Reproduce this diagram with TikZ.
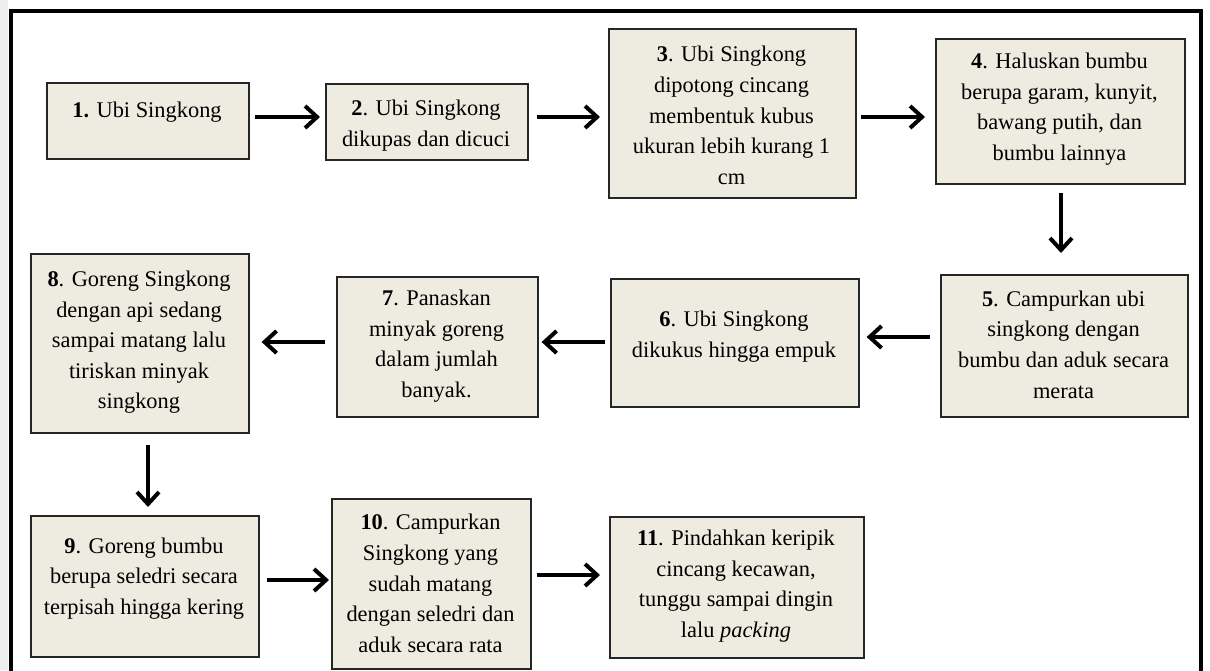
\documentclass[tikz,border=0pt]{standalone}
\usepackage{fontspec}
\setmainfont{Liberation Serif}
\usetikzlibrary{arrows.meta,calc}
\definecolor{boxfill}{HTML}{EEECE1}
\begin{document}
\begin{tikzpicture}[x=0.5pt,y=-0.5pt,
  box/.style={draw=black!85, line width=0.8pt, fill=boxfill, inner sep=0pt, anchor=north west},
  txt/.style={font=\fontsize{11.2}{15.3}\selectfont, align=center, inner sep=0pt,
              execute at begin node=\strut, execute at end node=\strut},
  arr/.style={line width=2pt, -{Straight Barb[length=6pt,width=11pt]}},
  frame/.style={line width=2pt}
]
\useasboundingbox (0,0) rectangle (1210,670);
\fill[black!7] (0,0) rectangle (8,670);
\draw[frame] (11,672) -- (11,10.5) -- (1201,10.5) -- (1201,672);

% boxes
\node[box, minimum width=101pt, minimum height=38pt] (b1) at (46,82) {};
\node[box, minimum width=101pt, minimum height=38pt] (b2) at (325,83) {};
\node[box, minimum width=123.5pt, minimum height=84.5pt] (b3) at (608,28) {};
\node[box, minimum width=124.5pt, minimum height=72.5pt] (b4) at (935,38) {};
\node[box, minimum width=123.5pt, minimum height=71pt] (b5) at (940,274) {};
\node[box, minimum width=124pt, minimum height=64pt] (b6) at (610,278) {};
\node[box, minimum width=100.5pt, minimum height=70pt] (b7) at (336,276) {};
\node[box, minimum width=109pt, minimum height=89.5pt] (b8) at (30,253) {};
\node[box, minimum width=114pt, minimum height=70.5pt] (b9) at (30,515) {};
\node[box, minimum width=99.5pt, minimum height=85pt] (b10) at (331,498) {};
\node[box, minimum width=127pt, minimum height=70.5pt] (b11) at (609,516) {};

% texts
\node[txt] (t1) at (147,111) {\textbf{1.} Ubi Singkong};
\node[txt] (t2) at (426,128) {\textbf{2}. Ubi Singkong\\dikupas dan dicuci};
\node[txt] (t3) at (731.5,120) {\textbf{3}. Ubi Singkong\\dipotong cincang\\membentuk kubus\\ukuran lebih kurang 1\\cm};
\node[txt] (t4) at (1059.5,111.5) {\textbf{4}. Haluskan bumbu\\berupa garam, kunyit,\\bawang putih, dan\\bumbu lainnya};
\node[txt] (t5) at (1063.5,349) {\textbf{5}. Campurkan ubi\\singkong dengan\\bumbu dan aduk secara\\merata};
\node[txt] (t6) at (734,339) {\textbf{6}. Ubi Singkong\\dikukus hingga empuk};
\node[txt] (t7) at (436.5,348.5) {\textbf{7}. Panaskan\\minyak goreng\\dalam jumlah\\banyak.};
\node[txt] (t8) at (139,344.5) {\textbf{8}. Goreng Singkong\\dengan api sedang\\sampai matang lalu\\tiriskan minyak\\singkong};
\node[txt] (t9) at (144,580.5) {\textbf{9}. Goreng bumbu\\berupa seledri secara\\terpisah hingga kering};
\node[txt] (t10) at (430.5,588) {\textbf{10}. Campurkan\\Singkong yang\\sudah matang\\dengan seledri dan\\aduk secara rata};
\node[txt] (t11) at (736,588.5) {\textbf{11}. Pindahkan keripik\\cincang kecawan,\\tunggu sampai dingin\\lalu \textit{packing}};

% arrow rows / columns
\coordinate (r1) at (0,117);
\coordinate (r2a) at (0,337);
\coordinate (r2b) at (0,342);
\coordinate (r3a) at (0,580);
\coordinate (r3b) at (0,575);
\coordinate (c45) at (1061,0);
\coordinate (c89) at (148,0);

\draw[arr, shorten <=2.5pt, shorten >=2.5pt] (b1.east |- r1) -- (b2.west |- r1);
\draw[arr, shorten <=4pt, shorten >=4pt] (b2.east |- r1) -- (b3.west |- r1);
\draw[arr, shorten <=2pt, shorten >=5pt] (b3.east |- r1) -- (b4.west |- r1);
\draw[arr, shorten <=4pt, shorten >=10.5pt] (b4.south -| c45) -- (b5.north -| c45);
\draw[arr, shorten <=5pt, shorten >=3.5pt] (b5.west |- r2a) -- (b6.east |- r2a);
\draw[arr, shorten <=2.5pt, shorten >=1.5pt] (b6.west |- r2b) -- (b7.east |- r2b);
\draw[arr, shorten <=5.5pt, shorten >=6pt] (b7.west |- r2b) -- (b8.east |- r2b);
\draw[arr, shorten <=5.5pt, shorten >=4pt] (b8.south -| c89) -- (b9.north -| c89);
\draw[arr, shorten <=3.5pt, shorten >=1pt] (b9.east |- r3a) -- (b10.west |- r3a);
\draw[arr, shorten <=2.5pt, shorten >=4.5pt] (b10.east |- r3b) -- (b11.west |- r3b);
\end{tikzpicture}
\end{document}
